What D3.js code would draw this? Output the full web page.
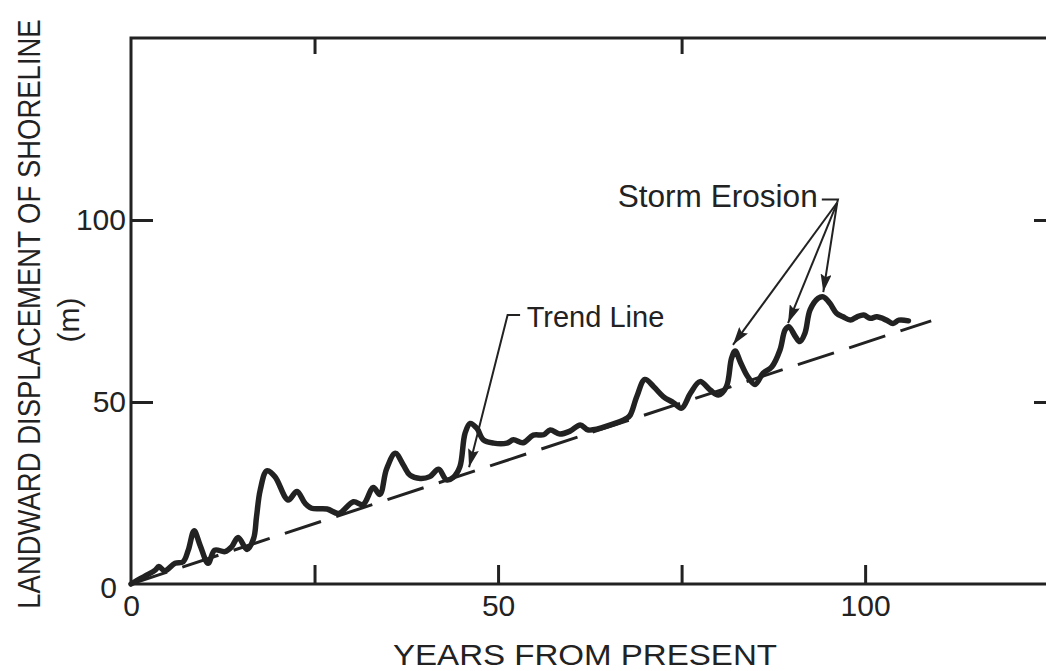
<!DOCTYPE html>
<html>
<head>
<meta charset="utf-8">
<script src="https://cdn.jsdelivr.net/npm/d3@7"></script>
<style>
  html, body { margin: 0; padding: 0; background: #fff; overflow: hidden; }
  text { font-family: "Liberation Sans", Arial, sans-serif; fill: #222; }
</style>
</head>
<body>
<svg id="chart" width="1046" height="671"></svg>
<script>
// shoreline position (years, metres landward)
let years = [0, 0.5, 2.0, 3.3, 3.8, 4.6, 6.0, 7.1, 7.8, 8.6, 9.4, 10.5, 11.4, 12.8, 13.7, 14.6, 15.8, 16.7,
  17.1, 17.6, 18.5, 19.6, 21.4, 22.6, 23.7, 24.6, 26.7, 28.3, 30.3, 31.6, 33.0, 33.9, 34.8, 36.0, 37.1,
  38.0, 39.4, 40.7, 41.9, 43.0, 43.9, 44.8, 45.5, 46.2, 47.1, 48.0, 49.4, 51.2, 52.1, 53.4, 54.8, 56.2,
  57.1, 58.4, 59.8, 61.2, 62.3, 65.3, 67.5, 68.0, 68.9, 70.0, 71.2, 72.5, 73.9, 75.0, 76.2, 77.5, 78.9,
  80.0, 81.1, 81.8, 82.3, 83.0, 84.0, 85.0, 86.1, 87.3, 88.4, 89.1, 89.6, 90.5, 91.1, 91.8, 92.5, 93.6,
  94.3, 95.2, 96.1, 97.0, 98.0, 98.9, 99.8, 100.7, 101.6, 102.9, 103.8, 104.6, 105.9];
let displacement = [0, 0.6, 2.3, 3.8, 4.8, 3.6, 5.7, 6.1, 9.3, 14.6, 10.7, 5.7, 9.3, 8.9, 10.2, 12.8, 9.5, 12.5,
  18.5, 25.8, 31.1, 29.5, 23.1, 25.4, 22.2, 20.8, 20.6, 19.4, 22.6, 21.8, 26.5, 24.6, 31.5, 35.9, 32.7,
  29.9, 29.0, 29.5, 31.5, 28.6, 29.3, 32.2, 41.4, 44.1, 42.8, 39.6, 38.7, 38.7, 39.6, 38.8, 40.9, 41.0,
  42.3, 41.2, 42.0, 43.7, 42.3, 43.7, 45.5, 46.4, 51.5, 56.2, 54.2, 51.5, 49.8, 48.3, 52.4, 55.6, 53.3,
  51.9, 54.2, 62.0, 64.0, 61.0, 57.0, 54.8, 57.9, 59.7, 64.3, 69.8, 70.7, 68.0, 66.6, 68.9, 75.3, 78.5,
  78.9, 77.1, 74.4, 73.4, 72.5, 73.4, 73.9, 73.0, 73.4, 72.5, 71.6, 72.5, 72.3];

let trendYears = [0, 109];
let trendDisp = [0, 72.3];

let xTicks = [25, 50, 75, 100];
let xLabels = [0, 50, 100];
let yTicks = [50, 100];
let yLabels = [0, 50, 100];

let svg = d3.select('#chart');
let x = d3.scaleLinear().domain([0, 126]).range([131, 1056]);
let y = d3.scaleLinear().domain([0, 150]).range([584, 38]);
let ink = '#222';

// frame
svg.append('rect')
  .attr('x', x(0)).attr('y', y(150))
  .attr('width', x(126) - x(0)).attr('height', y(0) - y(150))
  .attr('fill', 'none').attr('stroke', ink).attr('stroke-width', 3);

let tickAxis = function(axis, tr) {
  let g = svg.append('g').attr('transform', tr).call(axis);
  g.select('.domain').remove();
  g.selectAll('line').attr('stroke', ink).attr('stroke-width', 3);
  return g;
};

tickAxis(d3.axisBottom(x).tickValues(xTicks).tickSize(-19).tickFormat(''), 'translate(0,' + y(0) + ')');
tickAxis(d3.axisTop(x).tickValues([25, 75]).tickSize(-16).tickFormat(''), 'translate(0,' + y(150) + ')');
tickAxis(d3.axisLeft(y).tickValues(yTicks).tickSize(-22).tickFormat(''), 'translate(' + x(0) + ',0)');
tickAxis(d3.axisRight(y).tickValues(yTicks).tickSize(-22).tickFormat(''), 'translate(' + x(126) + ',0)');

// tick labels
let xl = tickAxis(d3.axisBottom(x).tickValues(xLabels).tickSize(0).tickPadding(11), 'translate(0,' + y(0) + ')');
xl.selectAll('text').attr('font-size', 30).style('font-family', '"Liberation Sans", Arial, sans-serif').attr('fill', ink);
let yl = tickAxis(d3.axisLeft(y).tickValues(yLabels).tickSize(0).tickPadding(5), 'translate(' + x(0) + ',0)');
yl.selectAll('text').attr('font-size', 30).style('font-family', '"Liberation Sans", Arial, sans-serif').attr('fill', ink);
yl.selectAll('.tick').filter(d => d === 0).select('text').attr('dx', -9).attr('dy', '0.45em');

// axis titles
svg.append('text').attr('x', 393).attr('y', 665)
  .attr('font-size', 30).attr('textLength', 384).attr('lengthAdjust', 'spacingAndGlyphs')
  .text('YEARS FROM PRESENT');
svg.append('text')
  .attr('transform', 'translate(29,314) rotate(-90) scale(1,1.17)')
  .attr('text-anchor', 'middle').attr('dominant-baseline', 'central')
  .attr('font-size', 27.5)
  .text('LANDWARD DISPLACEMENT OF SHORELINE');
svg.append('text')
  .attr('transform', 'translate(68,320) rotate(-90)')
  .attr('text-anchor', 'middle').attr('dominant-baseline', 'central')
  .attr('font-size', 30)
  .text('(m)');

// trend line
let trend = trendYears.map((d, i) => [d, trendDisp[i]]);
svg.append('path').datum(trend)
  .attr('d', d3.line().x(d => x(d[0])).y(d => y(d[1])))
  .attr('fill', 'none').attr('stroke', ink).attr('stroke-width', 3)
  .attr('stroke-dasharray', '38,16');

// shoreline
let shore = years.map((d, i) => [d, displacement[i]]);
svg.append('path').datum(shore)
  .attr('d', d3.line().curve(d3.curveCatmullRom.alpha(0.5)).x(d => x(d[0])).y(d => y(d[1])))
  .attr('fill', 'none').attr('stroke', ink).attr('stroke-width', 5.5)
  .attr('stroke-linejoin', 'round').attr('stroke-linecap', 'round');

// annotations
svg.append('defs').append('marker')
  .attr('id', 'head').attr('viewBox', '0 0 18 11')
  .attr('refX', 18).attr('refY', 5.5)
  .attr('markerWidth', 18).attr('markerHeight', 11)
  .attr('markerUnits', 'userSpaceOnUse').attr('orient', 'auto')
  .append('path').attr('d', 'M0,0 L18,5.5 L0,11 L3,5.5 Z').attr('fill', ink);

let leader = function(pts, arrow) {
  let p = svg.append('path')
    .attr('d', d3.line().x(d => x(d[0])).y(d => y(d[1]))(pts))
    .attr('fill', 'none').attr('stroke', ink).attr('stroke-width', 2);
  if (arrow) p.attr('marker-end', 'url(#head)');
};

leader([[53.0, 73.9], [51.3, 73.9], [46.05, 32.1]], true);
svg.append('text').attr('x', x(53.9)).attr('y', y(70.6))
  .attr('font-size', 29).text('Trend Line');

leader([[94.1, 105.6], [96.3, 105.6], [96.2, 104.8]], false);
leader([[96.2, 104.8], [82.0, 65.7]], true);
leader([[96.2, 104.8], [89.5, 71.7]], true);
leader([[96.2, 104.8], [94.3, 80.2]], true);
svg.append('text').attr('x', x(66.3)).attr('y', y(103.6))
  .attr('font-size', 31).attr('textLength', 200).attr('lengthAdjust', 'spacingAndGlyphs')
  .text('Storm Erosion');
</script>
</body>
</html>
